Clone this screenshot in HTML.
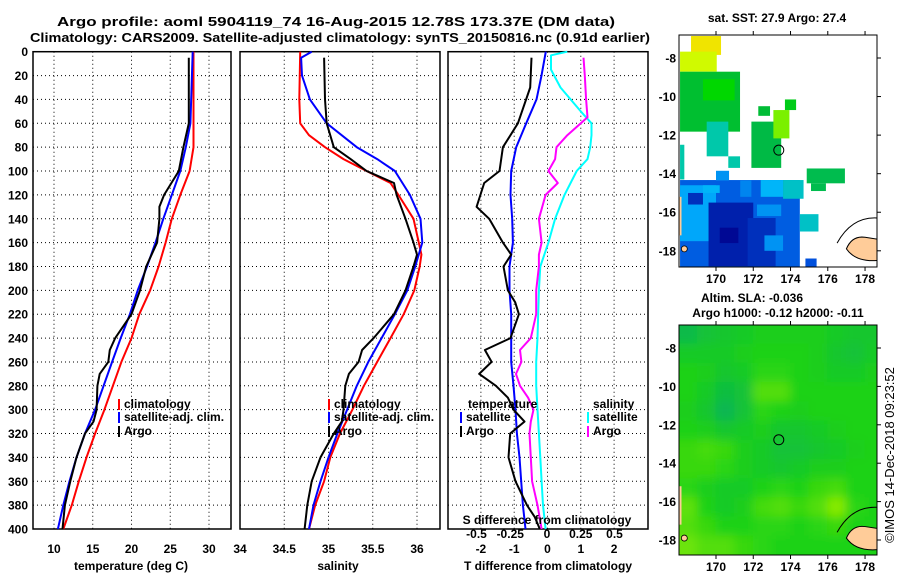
<!DOCTYPE html>
<html><head><meta charset="utf-8"><style>
body{margin:0;background:#fff;}
svg{display:block;font-family:"Liberation Sans",sans-serif;}
.t{font-size:12px;font-weight:bold;fill:#000;}
</style></head><body>
<svg id="s" width="900" height="580" viewBox="0 0 900 580">
<text x="57" y="26" font-size="13" font-weight="bold" textLength="558" lengthAdjust="spacingAndGlyphs">Argo profile: aoml 5904119_74 16-Aug-2015 12.78S 173.37E (DM data)</text>
<text x="30" y="42" font-size="13" font-weight="bold" textLength="620" lengthAdjust="spacingAndGlyphs">Climatology: CARS2009. Satellite-adjusted climatology: synTS_20150816.nc (0.91d earlier)</text>
<g id="g"></g>
</svg>
<script>
// ---------- data ----------
const tClimD=[0,80,100,120,140,160,180,200,220,240,260,280,300,320,340,360,380,400];
const tClimV=[28.0,28.0,27.5,26.3,25.2,24.4,23.5,22.4,21.0,20.0,18.7,17.6,16.5,15.3,14.2,13.2,12.3,11.2];
const tSatD=[0,60,80,100,120,140,160,180,200,220,240,260,280,300,320,340,360,380,400];
const tSatV=[27.9,27.6,27.0,26.3,25.2,24.1,23.1,22.0,20.8,19.8,18.6,17.5,16.4,15.3,14.0,12.9,12.0,11.2,10.5];
const tArgoD=[5,60,80,100,120,130,140,160,180,200,220,240,250,260,270,280,300,310,320,340,360,380,400];
const tArgoV=[27.4,27.4,26.7,26.1,24.2,23.6,23.6,23.3,21.9,21.1,20.0,17.9,17.2,17.0,15.9,15.6,15.5,15.1,14.0,12.9,12.1,11.4,11.1];
const sClimD=[0,40,60,70,80,90,100,110,120,140,160,170,180,200,220,240,260,280,300,320,340,360,380,400];
const sClimV=[34.68,34.67,34.68,34.78,34.96,35.17,35.43,35.70,35.79,35.96,36.02,36.05,36.03,35.97,35.85,35.70,35.55,35.40,35.27,35.13,35.02,34.95,34.85,34.78];
const sSatD=[0,5,20,40,60,80,90,100,120,140,160,180,200,220,240,260,280,300,320,340,360,380,400];
const sSatV=[34.81,34.69,34.70,34.79,34.98,35.32,35.55,35.75,35.92,36.04,36.06,35.98,35.89,35.75,35.60,35.45,35.32,35.21,35.10,35.00,34.91,34.83,34.78];
const sArgoD=[5,40,60,80,90,100,110,120,140,160,170,180,200,220,240,250,260,270,280,300,310,320,340,360,380,400];
const sArgoV=[34.95,34.96,34.98,35.06,35.25,35.43,35.74,35.77,35.87,35.96,36.00,35.96,35.87,35.74,35.51,35.38,35.34,35.23,35.19,35.17,35.15,35.06,34.91,34.81,34.76,34.73];
const dTSatD=[0,20,40,60,80,100,120,140,160,180,200,220,240,260,280,300,320,340,360,380,400];
const dTSatV=[-0.05,-0.18,-0.33,-0.64,-0.94,-1.09,-1.11,-1.06,-1.04,-1.14,-1.14,-1.09,-1.09,-1.09,-1.02,-0.96,-0.92,-0.84,-0.79,-0.74,-0.66];
const dTArgoD=[5,30,60,80,90,100,110,130,140,160,170,180,200,210,220,240,250,260,270,280,290,300,310,320,340,360,370,380,390,400];
const dTArgoV=[-0.48,-0.52,-0.89,-1.34,-1.39,-1.44,-1.90,-2.13,-1.75,-1.34,-1.09,-1.32,-1.19,-0.97,-0.86,-1.11,-1.88,-1.68,-2.05,-1.55,-1.19,-1.02,-0.69,-1.12,-1.17,-0.96,-0.79,-0.62,-0.38,-0.23];
const dSSatD=[0,3,15,30,50,60,70,80,90,100,120,140,160,180,200,240,260,280,300,320,340,360,380,400];
const dSSatV=[0.15,0.03,0.03,0.10,0.25,0.33,0.33,0.32,0.30,0.22,0.13,0.06,0.01,-0.05,-0.06,-0.07,-0.08,-0.08,-0.07,-0.06,-0.05,-0.04,-0.03,-0.01];
const dSArgoD=[5,20,40,55,60,70,80,90,100,110,120,140,160,170,180,200,220,240,250,260,270,280,290,300,310,320,340,360,380,400];
const dSArgoV=[0.27,0.28,0.29,0.30,0.25,0.15,0.07,0.06,0.01,0.08,-0.01,-0.06,-0.04,-0.06,-0.06,-0.08,-0.08,-0.12,-0.20,-0.19,-0.23,-0.20,-0.14,-0.10,-0.12,-0.13,-0.12,-0.11,-0.07,-0.04];
const depthTicks=[0,20,40,60,80,100,120,140,160,180,200,220,240,260,280,300,320,340,360,380,400];
const tTicks=[10,15,20,25,30];
const sTicks=[34,34.5,35,35.5,36];
const dTTicks=[-2,-1,0,1,2];
const dSTicks=[-0.5,-0.25,0,0.25,0.5];
const dSTickLabels=["-0.5","-0.25","0","0.25","0.5"];
// SST map blocks: lon0, latTop, lon1, latBottom, value
const sstBlocks=[
[168.07,-12.5,168.3,-14.3,0.5],
[168.07,-14.33,174.5,-18.83,0.22],
[168.07,-14.6,170.0,-17.5,0.33],
[168.5,-15.0,169.3,-15.6,0.12],
[169.3,-14.6,170.2,-15.0,0.36],
[169.6,-15.5,172.0,-18.8,0.08],
[170.2,-16.8,171.2,-17.6,0.02],
[171.7,-16.3,173.2,-18.8,0.12],
[172.2,-15.6,173.5,-16.2,0.3],
[172.4,-14.33,173.6,-15.2,0.36],
[173.6,-14.33,174.7,-15.3,0.45],
[170.0,-13.85,170.7,-14.35,0.3],
[171.3,-14.35,171.9,-15.2,0.28],
[172.6,-17.2,173.6,-18.0,0.3],
[174.5,-16.1,175.5,-17.0,0.45],
[174.8,-18.4,175.4,-18.84,0.2],
[168.66,-6.86,170.27,-7.84,1.0],
[168.07,-7.67,170.04,-8.71,0.88],
[168.07,-8.71,171.29,-11.82,0.64],
[169.3,-9.1,171.0,-10.2,0.72],
[169.5,-11.3,170.66,-13.1,0.5],
[170.66,-13.1,171.29,-13.7,0.5],
[171.9,-11.3,173.5,-13.7,0.61],
[172.27,-10.5,172.9,-11.0,0.63],
[173.08,-10.7,173.94,-12.17,0.8],
[173.7,-10.15,174.3,-10.7,0.68],
[174.87,-13.73,176.92,-14.5,0.6],
[175.1,-14.5,175.9,-14.9,0.6]];
// SLA map grid (1 degree cells), lon 168..179, lat rows -7..-19
const slaGrid=[
[0.2,0.3,0.35,0.4,0.45,0.45,0.45,0.45,0.4,0.35,0.35],
[0.4,0.4,0.4,0.45,0.5,0.5,0.5,0.45,0.35,0.3,0.4],
[0.5,0.45,0.35,0.4,0.55,0.55,0.5,0.45,0.4,0.4,0.45],
[0.5,0.4,0.25,0.3,0.7,0.7,0.5,0.5,0.5,0.5,0.5],
[0.45,0.35,0.15,0.3,0.55,0.5,0.45,0.5,0.5,0.5,0.5],
[0.5,0.45,0.35,0.4,0.45,0.35,0.35,0.4,0.45,0.5,0.5],
[0.6,0.65,0.6,0.45,0.4,0.3,0.3,0.35,0.4,0.45,0.5],
[0.6,0.6,0.55,0.45,0.4,0.35,0.4,0.45,0.45,0.5,0.5],
[0.55,0.45,0.4,0.4,0.5,0.55,0.5,0.6,0.65,0.5,0.5],
[0.75,0.5,0.4,0.45,0.65,0.7,0.6,0.7,0.9,0.55,0.5],
[0.7,0.6,0.5,0.5,0.55,0.55,0.5,0.55,0.6,0.5,0.5],
[0.8,0.7,0.7,0.6,0.55,0.5,0.5,0.5,0.5,0.5,0.5]];
const lonTicks=[170,172,174,176,178];
const latTicks=[-8,-10,-12,-14,-16,-18];
const argoLon=173.37, argoLat=-12.78;

// ---------- drawing ----------
const NS="http://www.w3.org/2000/svg";
const G=document.getElementById('g');
function el(tag,at,parent){const e=document.createElementNS(NS,tag);for(const k in at)e.setAttribute(k,at[k]);(parent||G).appendChild(e);return e;}
function txt(x,y,s,anchor,name,extra){const e=el('text',Object.assign({x:x,y:y,'class':'t','text-anchor':anchor||'start'},extra||{}));e.textContent=s;


return e;}
const Y0=51.7,Y1=529;
const yD=d=>Y0+d*(Y1-Y0)/400;
const xT=v=>54+(v-10)*7.75;
const xS=v=>240+(v-34)*88.5;
const xdT=v=>547.5+v*33.3;
const xdS=v=>547+v*135;
function line(D,V,fx,color,w,name){
  const pts=D.map((d,i)=>fx(V[i]).toFixed(1)+','+yD(d).toFixed(1)).join(' ');
  const p=el('polyline',{points:pts,fill:'none',stroke:color,'stroke-width':w,'stroke-linejoin':'round'});
  
  
}
function panel(x0,x1,name,vticks,fx){
  vticks.forEach(v=>{const l=el('line',{x1:fx(v),x2:fx(v),y1:Y0,y2:Y1,stroke:'#000','stroke-dasharray':'1,3','stroke-width':1});
    
    });
  depthTicks.forEach(d=>{if(d==0||d==400)return;const l=el('line',{x1:x0,x2:x1,y1:yD(d),y2:yD(d),stroke:'#000','stroke-dasharray':'1,3','stroke-width':1});
    
    });
  const r=el('rect',{x:x0,y:Y0,width:x1-x0,height:Y1-Y0,fill:'none',stroke:'#000','stroke-width':1.5});
  
  
}
// panel 1
panel(33,231,'temperature-panel',tTicks,xT);
depthTicks.forEach(d=>txt(28,yD(d)+4.5,String(d),'end','depth-tick-label'));
tTicks.forEach(v=>txt(xT(v),553,String(v),'middle','temperature-tick-label'));
txt(131,570,'temperature (deg C)','middle','x-axis-title-temperature');
line(tClimD,tClimV,xT,'#f00',2,'temp-climatology-line');
line(tSatD,tSatV,xT,'#00f',2,'temp-satellite-line');
line(tArgoD,tArgoV,xT,'#000',2,'temp-argo-line');
function legend(x,y,color,label,name){const r=el('rect',{x:x,y:y-9,width:2,height:11,fill:color});
  
  
  txt(x+6,y,label,'start',name);}
legend(118,408,'#f00','climatology','legend-climatology');
legend(118,421,'#00f','satellite-adj. clim.','legend-satellite-adj');
legend(118,435,'#000','Argo','legend-argo');
// panel 2
panel(240,440,'salinity-panel',[34.5,35,35.5,36],xS);
sTicks.forEach(v=>txt(xS(v),553,String(v),'middle','salinity-tick-label'));
txt(338,570,'salinity','middle','x-axis-title-salinity');
line(sClimD,sClimV,xS,'#f00',2,'sal-climatology-line');
line(sSatD,sSatV,xS,'#00f',2,'sal-satellite-line');
line(sArgoD,sArgoV,xS,'#000',2,'sal-argo-line');
legend(328,408,'#f00','climatology','legend-climatology-sal');
legend(328,421,'#00f','satellite-adj. clim.','legend-satellite-adj-sal');
legend(328,435,'#000','Argo','legend-argo-sal');
// panel 3
panel(448,648,'difference-panel',dTTicks,xdT);
line(dTSatD,dTSatV,xdT,'#00f',2,'dT-satellite-line');
line(dTArgoD,dTArgoV,xdT,'#000',2,'dT-argo-line');
line(dSSatD,dSSatV,xdS,'#0ff',2,'dS-satellite-line');
line(dSArgoD,dSArgoV,xdS,'#f0f',2,'dS-argo-line');
dTTicks.forEach(v=>txt(xdT(v),553,String(v),'middle','dT-tick-label'));
txt(548,570,'T difference from climatology','middle','x-axis-title-dT');
txt(547,524,'S difference from climatology','middle','x-axis-title-dS');
dSTicks.forEach((v,i)=>txt(xdS(v)-(v<0?3:0),538,dSTickLabels[i],'middle','dS-tick-label'));
txt(468,408,'temperature','start','legend-title-temperature');
legend(460,421,'#00f','satellite','legend-dT-satellite');
legend(460,435,'#000','Argo','legend-dT-argo');
txt(593,408,'salinity','start','legend-title-salinity');
legend(587,421,'#0ff','satellite','legend-dS-satellite');
legend(587,435,'#f0f','Argo','legend-dS-argo');

// ---------- maps ----------
const MX0=679,MX1=877;
const mx=lon=>716+(lon-170)*18.63;
function sstColor(v){const st=[[0,0,0,140],[0.2,0,80,220],[0.35,0,180,255],[0.5,0,200,170],[0.62,0,185,60],[0.72,0,215,0],[0.85,200,255,0],[1,240,228,0]];
 for(let i=1;i<st.length;i++){if(v<=st[i][0]){const a=st[i-1],b=st[i],t=(v-a[0])/(b[0]-a[0]);return 'rgb('+[1,2,3].map(k=>Math.round(a[k]+(b[k]-a[k])*t)).join(',')+')';}}return 'rgb(240,228,0)';}
function slaColor(v){const a=v<0.5?[0,170,110]:[30,210,20],b=v<0.5?[30,210,20]:[160,240,0],t=v<0.5?v/0.5:(v-0.5)/0.5;return 'rgb('+a.map((c,k)=>Math.round(c+(b[k]-c)*t)).join(',')+')';}
const defs=el('defs',{});
const c1=el('clipPath',{id:'cp1'},defs);el('rect',{x:MX0,y:35,width:MX1-MX0,height:232},c1);
const c2=el('clipPath',{id:'cp2'},defs);el('rect',{x:MX0,y:325,width:MX1-MX0,height:230},c2);
const fb=el('filter',{id:'blur',x:'-10%',y:'-10%',width:'120%',height:'120%'},defs);el('feGaussianBlur',{stdDeviation:5},fb);
const my1=lat=>58+(-8-lat)*19.28;
const my2=lat=>348+(-8-lat)*19.2;
// map 1
const g1=el('g',{'clip-path':'url(#cp1)'});


sstBlocks.forEach(b=>{const r=el('rect',{x:mx(b[0]),y:my1(b[1]),width:mx(b[2])-mx(b[0]),height:my1(b[3])-my1(b[1]),fill:sstColor(b[4])},g1);
  
  });
// map 2
const g2o=el('g',{'clip-path':'url(#cp2)'});


const g2=el('g',{filter:'url(#blur)'},g2o);
slaGrid.forEach((row,ri)=>row.forEach((v,ci)=>{const lon=168+ci,lat=-7+(-ri);
  const r=el('rect',{x:mx(lon)-0.5-(ci==0?20:0),y:my2(lat+0.2)-0.5-(ri==0?20:0),width:18.63+1+(ci==0?20:0)+(ci==10?20:0),height:19.2+1+(ri==0?20:0)+(ri==11?20:0),fill:slaColor(v)},g2);
  
  }));
[[g1,my1],[g2o,my2]].forEach(([g,my],k)=>{
  const land=el('path',{d:'M'+mx(177.0)+','+my(-17.9)+' Q'+mx(177.3)+','+my(-17.2)+' '+mx(178.0)+','+my(-17.3)+' L'+mx(178.7)+','+my(-17.4)+' L'+mx(178.7)+','+my(-18.5)+' Q'+mx(177.5)+','+my(-18.6)+' '+mx(177.0)+','+my(-17.9)+'Z',fill:'#ffcc99',stroke:'#000','stroke-width':1},g);
  
  
  const coast=el('path',{d:'M'+mx(176.5)+','+my(-17.6)+' Q'+mx(177.3)+','+my(-16.2)+' '+mx(178.7)+','+my(-16.3),fill:'none',stroke:'#000','stroke-width':1},g);
  
  
  const l2=el('rect',{x:MX0,y:my(-15.2),width:2.5,height:my(-17.2)-my(-15.2),fill:'#ffcc99'},g);
  
  
  const l3=el('circle',{cx:mx(168.3),cy:my(-17.9),r:3,fill:'#ffcc99',stroke:'#000','stroke-width':0.8},g);
  
  
  const m=el('circle',{cx:mx(argoLon),cy:my(argoLat),r:5,fill:'none',stroke:'#000','stroke-width':1});
  
  
  const yt=k?325:35,yb=k?555:267;
  const fr=el('rect',{x:MX0,y:yt,width:MX1-MX0,height:yb-yt,fill:'none',stroke:'#000','stroke-width':1});
  
  
  lonTicks.forEach(v=>{el('line',{x1:mx(v),x2:mx(v),y1:yt,y2:yt-4,stroke:'#000'});el('line',{x1:mx(v),x2:mx(v),y1:yb,y2:yb+4,stroke:'#000'});
    txt(mx(v),yb+16,String(v),'middle','longitude-tick-label');});
  latTicks.forEach(v=>{el('line',{x1:MX1,x2:MX1+4,y1:my(v),y2:my(v),stroke:'#000'});
    txt(676,my(v)+4.5,String(v),'end','latitude-tick-label');});
});
txt(777,22,'sat. SST: 27.9 Argo: 27.4','middle','sst-map-title');
txt(752,302,'Altim. SLA: -0.036','middle','sla-map-title');
txt(778,317,'Argo h1000: -0.12 h2000: -0.11','middle','argo-height-subtitle');
txt(0,0,'©IMOS 14-Dec-2018 09:23:52','middle','imos-credit',{transform:'translate(894,455) rotate(-90)',style:'font-weight:normal;font-size:13px'});
</script>
</body></html>
